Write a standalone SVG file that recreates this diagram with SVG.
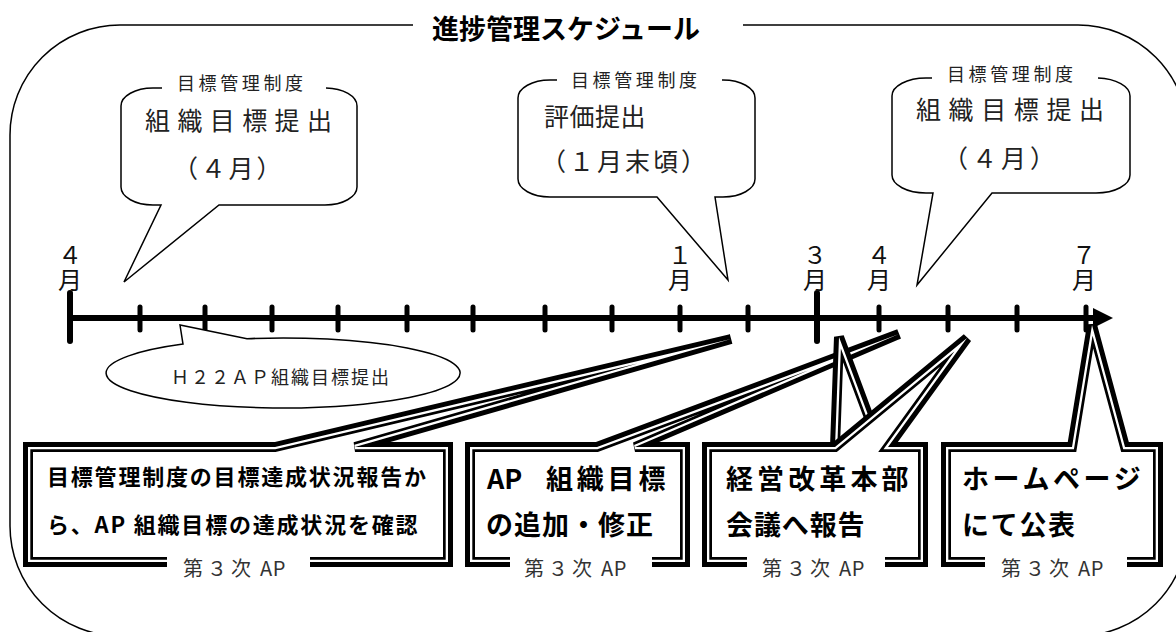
<svg xmlns="http://www.w3.org/2000/svg" width="1176" height="632" viewBox="0 0 1176 632">
<style>
text{font-family:"Noto Sans CJK JP","Noto Sans",sans-serif;dominant-baseline:central}
.frame{fill:none;stroke:#000;stroke-width:1.5}
.bub{fill:#fff;stroke:#000;stroke-width:1.5;stroke-linejoin:miter}
.lbl{font-size:18px;fill:#222;letter-spacing:3.6px}
.big{font-size:25px;fill:#222}
.tl{stroke:#000;stroke-width:6;fill:none}
.tick{stroke:#000;stroke-width:5;stroke-linecap:round}
.bigtick{stroke:#000;stroke-width:6;stroke-linecap:round}
.mon{font-size:24px;fill:#111;writing-mode:vertical-rl;letter-spacing:1px}
.bx{fill:#fff;stroke:#000;stroke-width:10;stroke-linejoin:miter}
.gap{fill:none;stroke:#fff;stroke-width:4.6;stroke-linejoin:miter}
.bt{font-weight:bold;fill:#000}
.ap{font-size:20px;fill:#333;letter-spacing:4px}
.ap tspan{letter-spacing:0.5px}
.wh{fill:#fff}
</style>
<defs>
<path id="p1" d="M28,447 H275 L731,339 L355,447 H448 V562 H28 Z"/>
<path id="p2" d="M470,447 H597 L899,334 L635,447 H685 V562 H470 Z"/>
<path id="p3a" d="M707,447 H835 L839,337 L880,447 H923 V562 H707 Z"/>
<path id="p3b" d="M707,447 H835 L967,338 L888,447 H923 V562 H707 Z"/>
<path id="p4" d="M946,447 H1072 L1092,325 L1125,447 H1158 V562 H946 Z"/>
<clipPath id="c1"><use href="#p1"/></clipPath>
<clipPath id="c2"><use href="#p2"/></clipPath>
<clipPath id="c3a"><use href="#p3a"/></clipPath>
<clipPath id="c3b"><use href="#p3b"/></clipPath>
<clipPath id="c4"><use href="#p4"/></clipPath>
</defs>

<g id="frame">
<path class="frame" d="M743,25 H1078 A110,110 0 0 1 1188,135 V526 A110,110 0 0 1 1078,636 H120 A110,110 0 0 1 10,526 V135 A110,110 0 0 1 120,25 H413"/>
</g>
<g id="title">
<text x="566" y="27" font-size="27" font-weight="bold" text-anchor="middle" fill="#000">進捗管理スケジュール</text>
</g>

<g id="callout1">
<path class="bub" d="M162,88 H153 A32,18 0 0 0 121,106 V187 A32,18 0 0 0 153,205 H161 L124,282 L219,205 H325 A32,18 0 0 0 357,187 V106 A32,18 0 0 0 326,88"/>
<text class="lbl" x="177" y="82">目標管理制度</text>
<text class="big" x="145" y="119" letter-spacing="7.4">組織目標提出</text>
<text class="big" x="173" y="167" letter-spacing="2.8">（４月）</text>
</g>

<g id="callout2">
<path class="bub" d="M557,80 H550 A32,18 0 0 0 518,98 V179 A32,18 0 0 0 550,197 H657 L728,280 L715,197 H723 A32,18 0 0 0 755,179 V98 A32,18 0 0 0 723,80 H722"/>
<text class="lbl" x="571" y="79">目標管理制度</text>
<text class="big" x="544" y="115" font-size="26" letter-spacing="0.5">評価提出</text>
<text class="big" x="541" y="160" letter-spacing="3">（１月末頃）</text>
</g>

<g id="callout3">
<path class="bub" d="M932,78 H926 A34,18 0 0 0 892,96 V175 A34,18 0 0 0 926,193 H933 L917,285 L992,193 H1096 A34,18 0 0 0 1130,175 V96 A34,18 0 0 0 1098,78"/>
<text class="lbl" x="947" y="73">目標管理制度</text>
<text class="big" x="916" y="108" letter-spacing="7.6">組織目標提出</text>
<text class="big" x="943" y="157" letter-spacing="4">（４月）</text>
</g>

<g id="timeline">
<line class="tl" x1="70" y1="318" x2="1097" y2="318"/>
<polygon points="1093,308 1113,318 1093,328" fill="#000"/>
<line class="bigtick" x1="70" y1="293" x2="70" y2="341"/>
<line class="bigtick" x1="817" y1="293" x2="817" y2="341"/>
<g class="tick">
<line x1="140" y1="307" x2="140" y2="330"/>
<line x1="205" y1="307" x2="205" y2="330"/>
<line x1="272" y1="307" x2="272" y2="330"/>
<line x1="338" y1="307" x2="338" y2="330"/>
<line x1="407" y1="307" x2="407" y2="330"/>
<line x1="473" y1="307" x2="473" y2="330"/>
<line x1="545" y1="307" x2="545" y2="330"/>
<line x1="612" y1="307" x2="612" y2="330"/>
<line x1="680" y1="307" x2="680" y2="330"/>
<line x1="748" y1="307" x2="748" y2="330"/>
<line x1="879" y1="307" x2="879" y2="330"/>
<line x1="948" y1="307" x2="948" y2="330"/>
<line x1="1017" y1="307" x2="1017" y2="330"/>
<line x1="1086" y1="307" x2="1086" y2="330"/>
</g>
<text class="mon" x="70" y="243">４月</text>
<text class="mon" x="680" y="243">１月</text>
<text class="mon" x="815" y="243">３月</text>
<text class="mon" x="879" y="243">４月</text>
<text class="mon" x="1084" y="243">７月</text>
</g>

<g id="callout-h22">
<path class="bub" d="M183,344.1 L180,325 L247,338.7 A177,35 0 1 1 183,344.1 Z"/>
<text x="171" y="376" font-size="18" fill="#222" letter-spacing="2">Ｈ２２ＡＰ組織目標提出</text>
</g>

<g id="box1">
<use href="#p1" class="bx"/><use href="#p1" class="gap" clip-path="url(#c1)"/>
<rect class="wh" x="167" y="554" width="143" height="16"/>
<text class="bt" x="47" y="475" font-size="22" letter-spacing="1.8">目標管理制度の目標達成状況報告か</text>
<text class="bt" x="47" y="523" font-size="22" letter-spacing="1.8">ら、AP 組織目標の達成状況を確認</text>
<text class="ap" x="183" y="567">第３次<tspan> AP</tspan></text>
</g>

<g id="box2">
<use href="#p2" class="bx"/><use href="#p2" class="gap" clip-path="url(#c2)"/>
<rect class="wh" x="510" y="554" width="142" height="16"/>
<text class="bt" y="477" font-size="27"><tspan x="487">AP </tspan><tspan x="546" letter-spacing="3.8">組織目標</tspan></text>
<text class="bt" x="486" y="523" font-size="27" letter-spacing="1">の追加・修正</text>
<text class="ap" x="524" y="567">第３次<tspan> AP</tspan></text>
</g>

<g id="box3">
<use href="#p3a" class="bx"/><use href="#p3a" class="gap" clip-path="url(#c3a)"/>
<use href="#p3b" class="bx"/><use href="#p3b" class="gap" clip-path="url(#c3b)"/>
<rect class="wh" x="747" y="554" width="138" height="16"/>
<text class="bt" x="726" y="477" font-size="27" letter-spacing="4.1">経営改革本部</text>
<text class="bt" x="726" y="523" font-size="27" letter-spacing="0.9">会議へ報告</text>
<text class="ap" x="762" y="567">第３次<tspan> AP</tspan></text>
</g>

<g id="box4">
<use href="#p4" class="bx"/><use href="#p4" class="gap" clip-path="url(#c4)"/>
<rect class="wh" x="985" y="554" width="142" height="16"/>
<text class="bt" x="962" y="477" font-size="27" letter-spacing="3.6">ホームページ</text>
<text class="bt" x="962" y="523" font-size="27" letter-spacing="1.7">にて公表</text>
<text class="ap" x="1001" y="567">第３次<tspan> AP</tspan></text>
</g>
</svg>
